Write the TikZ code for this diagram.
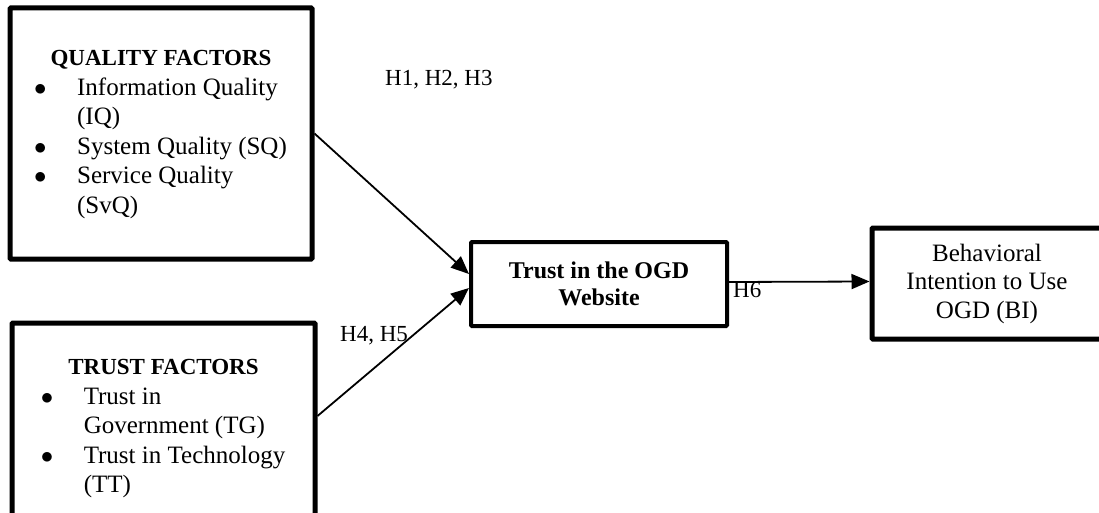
\documentclass[tikz,border=0pt]{standalone}
\usepackage{fontspec}
\setmainfont{Liberation Serif}
\usepackage{tikz}
\usetikzlibrary{arrows.meta}

\tikzset{
  factorbox/.style={draw, line width=5pt, rounded corners=1pt, inner sep=0pt},
  constructbox/.style={draw, line width=4pt, rounded corners=1pt, inner sep=0pt, align=center},
  link/.style={line width=1.8pt, -{Triangle[length=18pt,width=15pt]}},
  hyp/.style={inner sep=0pt, font=\fontsize{23}{26}\selectfont}
}

\newcommand{\bul}{\hspace*{-1pt}$\bullet$}
\newcommand{\factorlist}[2]{%
  \fontsize{25}{29.5}\selectfont
  \begin{tabular}{@{}p{42pt}@{}l@{}}
    \multicolumn{2}{@{}c@{}}{\fontsize{23}{29.5}\selectfont\textbf{#1}}\\
    #2
  \end{tabular}}

\begin{document}
\begin{tikzpicture}[x=1pt, y=-1pt]
        \useasboundingbox (0,0) rectangle (1099,513);

        % Left boxes: factors
        \node[factorbox, minimum width=302pt, minimum height=251pt] (quality) at (161,133.5)
            {\factorlist{QUALITY FACTORS}{%
              \bul & Information Quality\\
               & (IQ)\\
              \bul & System Quality (SQ)\\
              \bul & Service Quality\\
               & (SvQ)}};
        \node[factorbox, minimum width=303pt, minimum height=210pt] (trustf) at (163.5,428)
            {\factorlist{TRUST FACTORS}{%
              \bul & Trust in\\
               & Government (TG)\\
              \bul & Trust in Technology\\
               & (TT)}};

        % Mediator and outcome
        \node[constructbox, minimum width=256pt, minimum height=84pt,
              font=\fontsize{24}{27}\selectfont\bfseries] (ogd) at (599,284)
            {Trust in the OGD\\Website};
        \node[constructbox, line width=5pt, minimum width=230pt, minimum height=111pt,
              font=\fontsize{25}{28.5}\selectfont] (bi) at (987,283.5)
            {Behavioral\\Intention to Use\\OGD (BI)};

        % Paths
        \draw[link] (quality.east) -- ([yshift=10pt]ogd.west);
        \draw[link] ([yshift=12pt]trustf.east) -- ([yshift=-4pt]ogd.west);
        \draw[link] ([yshift=2pt]ogd.east) -- ([yshift=2pt]bi.west);

        % Hypotheses
        \node[hyp, anchor=west] (h1) at (385,80) {H1, H2, H3};
        \node[hyp, anchor=west] (h4) at (340,336) {H4, H5};
        \node[hyp, anchor=west] (h6) at (733,290) {H6};
    \end{tikzpicture}
\end{document}
